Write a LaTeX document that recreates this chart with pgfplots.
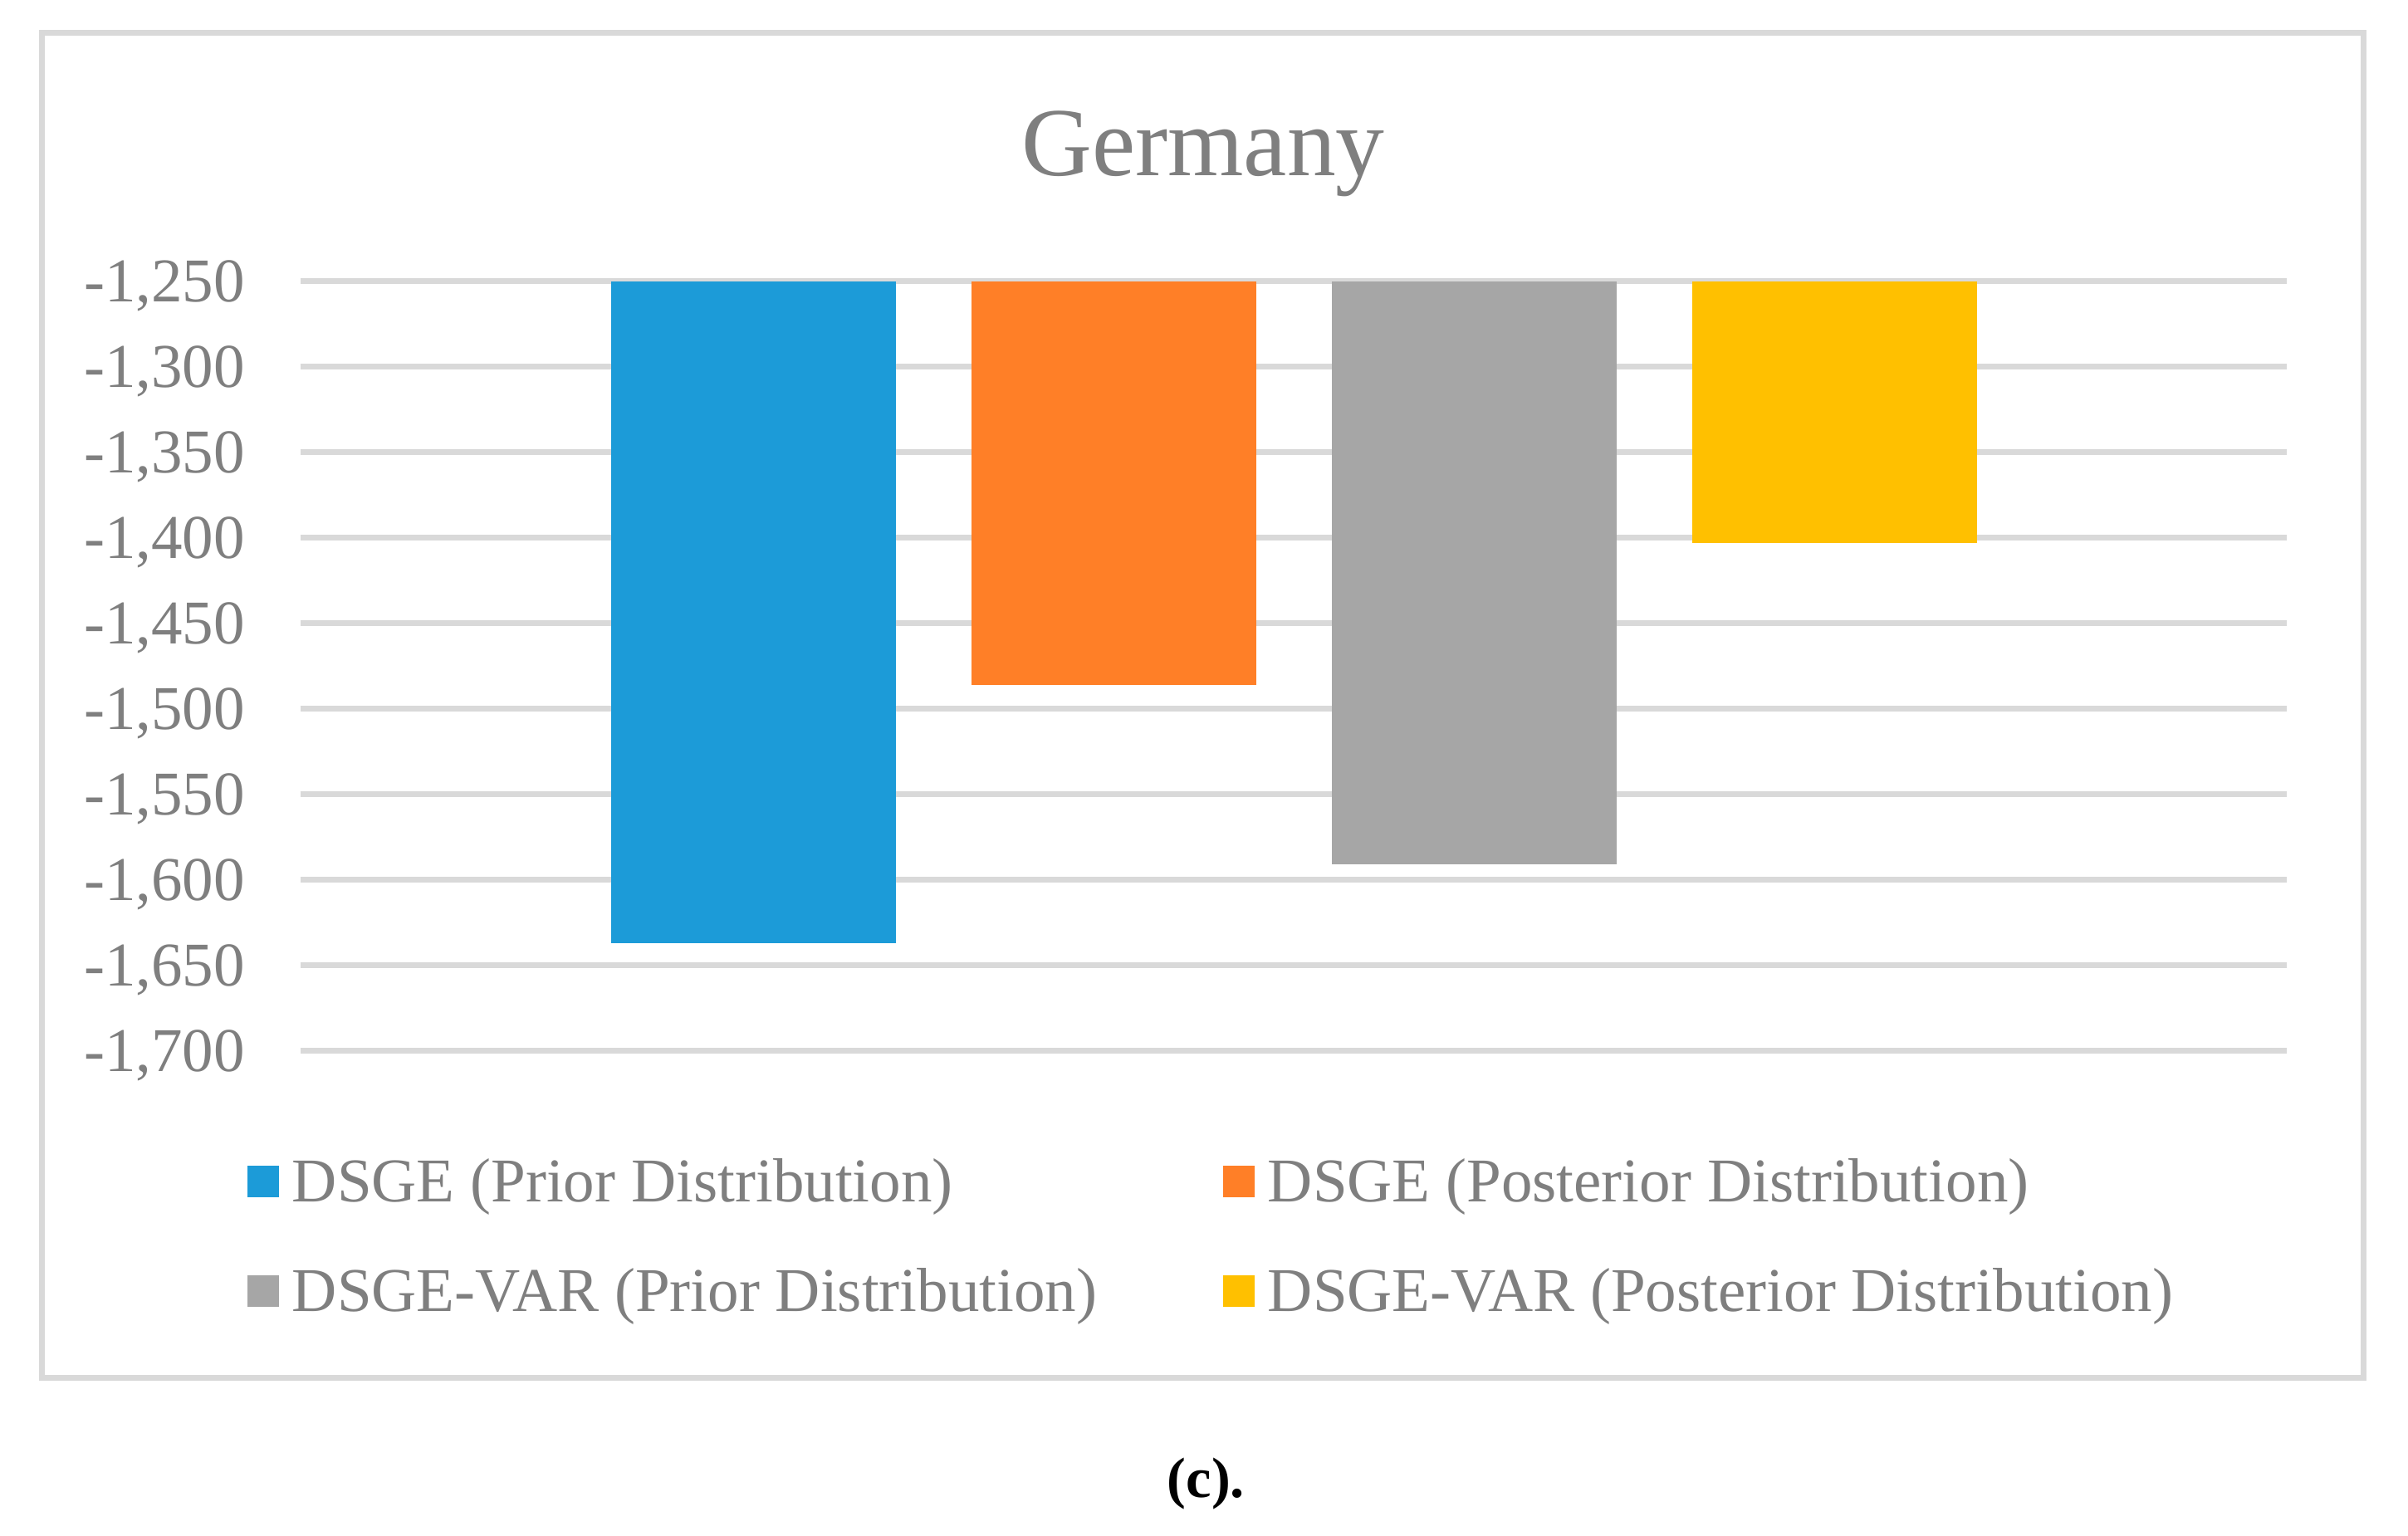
\documentclass[border=0pt]{standalone}
\usepackage{fontspec}
\setmainfont{Liberation Serif}
\usepackage{pgfplots}
\pgfplotsset{compat=1.18}

\definecolor{barblue}{HTML}{1C9BD8}
\definecolor{barorange}{HTML}{FF7F27}
\definecolor{bargray}{HTML}{A6A6A6}
\definecolor{baryellow}{HTML}{FFC000}
\definecolor{txtgray}{HTML}{7F7F7F}
\definecolor{linegray}{HTML}{D9D9D9}

\newcommand{\lgstrut}{\rule[-3.4pt]{0pt}{16.4pt}}

\begin{document}
\begin{tikzpicture}
\path[use as bounding box] (0,0) rectangle (580pt,369.8pt);
% outer chart frame
\draw[linegray, line width=1.4pt] (10pt,38pt) rectangle (569.2pt,361.8pt);
\node[anchor=base, inner sep=0pt, text=txtgray,
      font=\fontsize{23.5pt}{28pt}\selectfont] at (289.8pt,327.4pt) {Germany};
\node[anchor=base, inner sep=0pt,
      font=\fontsize{13.7pt}{16pt}\selectfont\bfseries] at (290.5pt,9.2pt) {(c).};

\begin{axis}[
  at={(72.4pt,116.7pt)}, anchor=south west,
  scale only axis, width=478.4pt, height=185.4pt,
  xmin=-1.257, xmax=4.255,
  ymin=-1700, ymax=-1250,
  axis line style={draw=none},
  major tick length=0pt,
  xtick=\empty,
  ytick={-1700,-1650,...,-1250},
  yticklabels={{-1,700},{-1,650},{-1,600},{-1,550},{-1,500},{-1,450},{-1,400},{-1,350},{-1,300},{-1,250}},
  yticklabel style={font=\fontsize{15pt}{18pt}\selectfont, text=txtgray,
                    anchor=base east, inner sep=0pt, xshift=-13.2pt, yshift=-5.07pt},
  ymajorgrids,
  grid style={linegray, line width=1.35pt},
  legend columns=2,
  legend cell align=left,
  legend style={at={(axis description cs:-0.02676,-0.12567)}, anchor=north west,
                draw=none, fill=none, inner sep=0pt, outer sep=0pt,
                column sep=3.2pt, row sep=10pt,
                nodes={inner sep=0pt, text depth=},
                font=\fontsize{15pt}{18pt}\selectfont, text=txtgray},
]
\addplot[ybar, bar width=0.790, bar shift=0pt, fill=barblue, draw=none,
  legend image code/.code={\fill[barblue] (0pt,-3.8pt) rectangle (7.6pt,3.8pt);}]
  coordinates {(0,-1637)};
\addlegendentry{\makebox[221pt][l]{\lgstrut DSGE (Prior Distribution)}}
\addplot[ybar, bar width=0.790, bar shift=0pt, fill=barorange, draw=none,
  legend image code/.code={\fill[barorange] (0pt,-3.8pt) rectangle (7.6pt,3.8pt);}]
  coordinates {(1,-1486)};
\addlegendentry{\lgstrut DSGE (Posterior Distribution)}
\addplot[ybar, bar width=0.790, bar shift=0pt, fill=bargray, draw=none,
  legend image code/.code={\fill[bargray] (0pt,-3.8pt) rectangle (7.6pt,3.8pt);}]
  coordinates {(2,-1591)};
\addlegendentry{\makebox[221pt][l]{\lgstrut DSGE-VAR (Prior Distribution)}}
\addplot[ybar, bar width=0.790, bar shift=0pt, fill=baryellow, draw=none,
  legend image code/.code={\fill[baryellow] (0pt,-3.8pt) rectangle (7.6pt,3.8pt);}]
  coordinates {(3,-1403)};
\addlegendentry{\lgstrut DSGE-VAR (Posterior Distribution)}
\end{axis}
\end{tikzpicture}
\end{document}
